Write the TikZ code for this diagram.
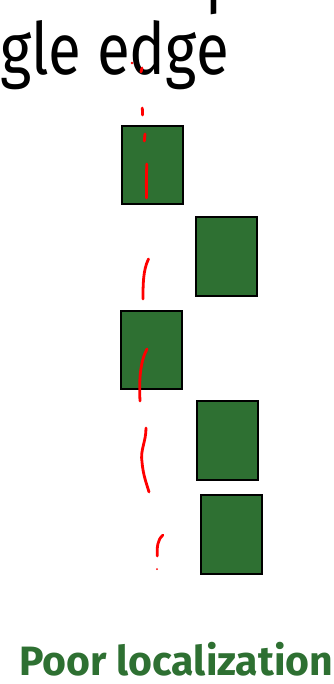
\documentclass[tikz,border=0pt]{standalone}
\usepackage{fontspec}
\setmainfont{Fira Sans}
\newfontfamily\bigfont[FakeStretch=0.834]{Fira Sans}
\definecolor{boxgreen}{RGB}{46,112,50}
\definecolor{textgreen}{RGB}{46,112,50}
\begin{document}
\begin{tikzpicture}[x=1pt,y=-1pt,
  gbox/.style={draw=black,line width=2pt,fill=boxgreen},
  edgestroke/.style={draw=red,line width=2.8pt,line cap=round},
  bigtext/.style={inner sep=0pt,font=\bigfont\fontsize{72}{76}\selectfont},
  caption/.style={inner sep=0pt,text=textgreen,font=\fontsize{41}{44}\selectfont\bfseries}]
\useasboundingbox (0,0) rectangle (333,684);
\clip (0,0) rectangle (333,684);
% text
\node[bigtext,anchor=base east] (l1a) at (205,0) {Double res};
\node[bigtext,anchor=base west] (l1b) at (l1a.base east) {ponses to a};
\node[bigtext,anchor=base east] (l2) at (229,75) {single edge};
% boxes
\path[gbox] (122,126) rectangle (183,204);
\path[gbox] (196,217) rectangle (257,296);
\path[gbox] (121,311) rectangle (182,389);
\path[gbox] (197,401) rectangle (258,480);
\path[gbox] (201,495) rectangle (262,574);
% red edge fragments
\fill[red] (132,63) circle (1.4);
\draw[edgestroke] (142,68) -- (141,72);
\draw[edgestroke] (142.3,108) -- (142.6,115);
\draw[edgestroke] (145,134) -- (144.3,141);
\draw[edgestroke] (146.8,164) .. controls (146.3,180) .. (146.5,198);
\draw[edgestroke] (148.5,259) .. controls (143,270) and (143,285) .. (143,299);
\draw[edgestroke] (147,349) .. controls (140,362) and (139,380) .. (140,401);
\draw[edgestroke] (146,428) .. controls (146,442) and (140,450) .. (142,462) .. controls (143,475) and (147,485) .. (149,492);
\draw[edgestroke] (163,535) .. controls (157,540) and (157,548) .. (157.3,556);
\fill[red] (157,569) circle (1);
% caption
\node[caption,anchor=base west] (cap) at (19,675) {Poor localization};
\end{tikzpicture}
\end{document}
